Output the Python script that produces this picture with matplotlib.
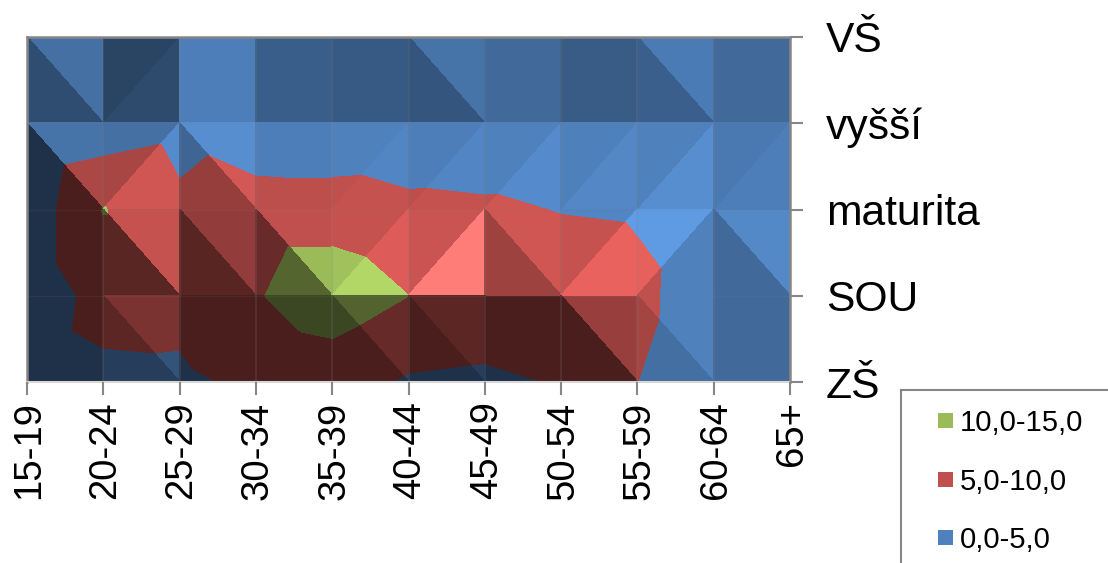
import numpy as np
import matplotlib
matplotlib.use('Agg')
import matplotlib.pyplot as plt
from matplotlib.lines import Line2D
from matplotlib.patches import Rectangle
from matplotlib.transforms import ScaledTranslation

plt.rcParams['font.family'] = ['Liberation Sans', 'DejaVu Sans']

ages = ['15-19', '20-24', '25-29', '30-34', '35-39', '40-44', '45-49', '50-54', '55-59', '60-64', '65+']
education = ['VŠ', 'vyšší', 'maturita', 'SOU', 'ZŠ']

vs = [1.0, 2.8, 0.9, 1.2, 1.5, 1.6, 1.4, 1.6, 1.9, 1.1, 1.3]
vyssi = [0.0, 1.7, 3.3, 0.4, 0.2, 0.65, 0.9, 1.1, 2.0, 2.0, 2.0]
maturita = [1.7, 10.2, 5.9, 7.8, 7.8, 6.3, 5.8, 4.8, 4.45, 2.4, 2.0]
sou = [1.7, 6.75, 6.5, 9.6, 12.9, 10.0, 9.5, 8.0, 6.15, 2.15, 1.5]
zs = [2.4, 3.85, 4.1, 5.9, 7.0, 4.4, 3.75, 5.35, 5.0, 2.0, 1.5]
values = [vs, vyssi, maturita, sou, zs]

levels = [-1, 5, 10, 20]
band_labels = ['0,0-5,0', '5,0-10,0', '10,0-15,0']
band_colors = ['#4F81BD', '#C0504D', '#9BBB59']

# Excel splits every cell in two: d = top left to bottom right, u = bottom left to top right
diagonals = ['dudddddddd',
             'duduuuuuuu',
             'uddduuduud',
             'uduudddddd']

# surface lighting of the two triangles in each cell
shade_upper = [[.87, .53, .98, .73, .70, .89, .82, .71, .95, .82],
               [.89, .87, 1.1, .98, 1.0, .98, 1.0, .99, 1.0, .94],
               [.38, 1.03, .76, 1.0, 1.03, 1.05, 1.08, 1.03, 1.2, 1.06],
               [.38, .64, .38, .38, .53, .48, .38, .79, 1.0, .82]]
shade_lower = [[.60, .58, .98, .73, .70, .66, .82, .71, .74, .82],
               [.38, 1.08, .78, .98, 1.03, 1.03, 1.08, 1.05, 1.1, .98],
               [.38, .47, .46, .54, 1.15, 1.56, .82, 1.22, 1.0, .82],
               [.38, .48, .38, .38, .38, .38, .38, .38, .86, .82]]

W, H = 1108, 563
L, R, T, B = 27, 790, 37, 382

fig = plt.figure(figsize=(W / 100, H / 100), dpi=100)
ax = fig.add_axes([L / W, 1 - B / H, (R - L) / W, (B - T) / H])
z = np.array(values)


def shaded(factor):
    return [tuple(np.clip(np.array(matplotlib.colors.to_rgb(c)) * factor, 0, 1)) for c in band_colors]


def draw_triangle(corners, factor):
    xs = [c[0] for c in corners]
    ys = [c[1] for c in corners]
    zz = [z[c[1], c[0]] for c in corners]
    cs = ax.tricontourf(xs, ys, [[0, 1, 2]], zz, levels=levels, colors=shaded(factor))
    cs.set_edgecolor('face')
    cs.set_linewidth(0.4)


for r in range(len(education) - 1):
    for c in range(len(ages) - 1):
        tl, tr, bl, br = (c, r), (c + 1, r), (c, r + 1), (c + 1, r + 1)
        if diagonals[r][c] == 'd':
            draw_triangle([tl, tr, br], shade_upper[r][c])
            draw_triangle([tl, bl, br], shade_lower[r][c])
        else:
            draw_triangle([tl, tr, bl], shade_upper[r][c])
            draw_triangle([tr, bl, br], shade_lower[r][c])

ax.set_xlim(0, len(ages) - 1)
ax.set_ylim(len(education) - 1, 0)
ax.set_xticks(range(len(ages)))
ax.set_xticklabels(ages, rotation=90, fontsize=27.5)
ax.set_yticks(range(len(education)))
ax.set_yticklabels(education, fontsize=30.7)
ax.yaxis.tick_right()
ax.tick_params(axis='x', length=9, width=1.5, color='#868686', pad=5, labelcolor='black')
ax.tick_params(axis='y', length=9, width=1.5, color='#868686', pad=17, labelcolor='black')
for label in ax.get_xticklabels():
    label.set_transform(label.get_transform() + ScaledTranslation(2 / 100, 0, fig.dpi_scale_trans))
ax.xaxis.grid(True, color='#808080', alpha=0.22, linewidth=1.2)
ax.yaxis.grid(True, color='#808080', alpha=0.12, linewidth=1.0)
ax.set_axisbelow(False)
for name in ['left', 'top', 'right']:
    ax.spines[name].set_color('#868686')
    ax.spines[name].set_linewidth(1.8)
ax.spines['bottom'].set_color('#D9D9D9')
ax.spines['bottom'].set_linewidth(1.5)

# legend box runs off the right and bottom edge of the picture
box_x, box_y = 901 / W, 1 - 390 / H
fig.add_artist(Line2D([box_x, box_x], [0, box_y], color='#868686', lw=1.5))
fig.add_artist(Line2D([box_x, 1], [box_y, box_y], color='#868686', lw=1.5))
for i, y in enumerate([537, 479, 420]):
    fig.add_artist(Rectangle((938 / W, 1 - (y + 7.5) / H), 15 / W, 15 / H, color=band_colors[i], lw=0))
    fig.text(960 / W, 1 - y / H, band_labels[i], fontsize=21.1, va='center_baseline', ha='left')

fig.savefig('out.png', dpi=100)
